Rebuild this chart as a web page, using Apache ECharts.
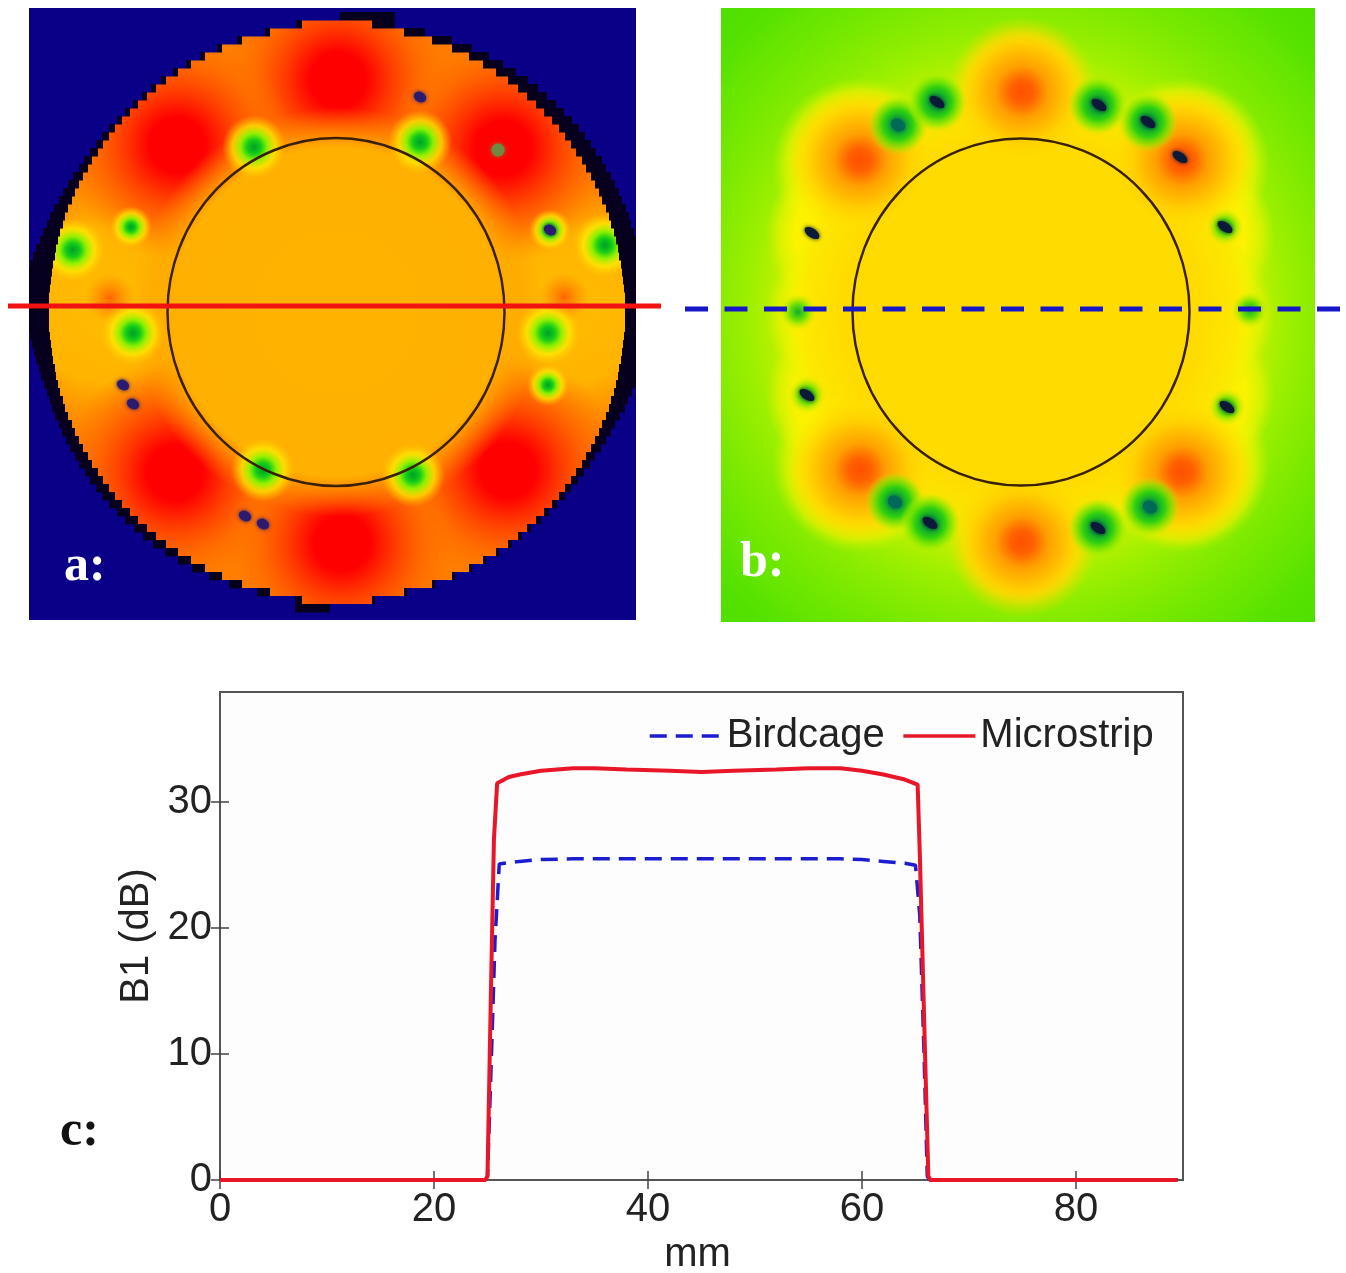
<!DOCTYPE html>
<html><head><meta charset="utf-8">
<style>html,body{margin:0;padding:0;background:#fff}#c{width:1346px;height:1273px}</style>
<script src="https://cdn.jsdelivr.net/npm/echarts@6/dist/echarts.min.js"></script>
</head><body><div id="c"></div>
<script>
// ---------- Panel c: B1 profile ----------
const xTicks = [0,20,40,60,80];
const yTicks = [0,10,20,30];
const birdcage = [[0,0],[10,0],[20,0],[24.8,0],[25,0.3],[25.3,8],[25.7,19],[26.1,25.1],[28,25.3],[30,25.45],[33,25.5],[38,25.5],[42,25.5],[46,25.5],[50,25.5],[54,25.5],[58,25.5],[60,25.45],[62,25.3],[64,25.15],[65,25],[65.4,21],[65.8,10],[66.1,0.3],[66.3,0],[75,0],[89.5,0]];
const microstrip = [[0,0],[10,0],[20,0],[24.8,0],[25,0.3],[25.3,14],[25.6,27],[25.9,31.5],[27,32],[28,32.2],[30,32.5],[33,32.7],[35,32.7],[38,32.6],[42,32.5],[45,32.4],[48,32.5],[52,32.6],[55,32.7],[58,32.7],[60,32.5],[62,32.2],[64,31.8],[65.2,31.4],[65.4,26],[65.8,13],[66.2,0.3],[66.4,0],[75,0],[89.5,0]];

// ---------- Panel a: field map (values on image-aligned axes) ----------
const rowYA = [24,32,40,48,56,64,72,80,88,96,104,112,120,128,136,144,152,160,168,176,184,192,200,208,216,224,232,240,248,256,264,272,280,288,296,304,312,320,328,336,344,352,360,368,376,384,392,400,408,416,424,432,440,448,456,464,472,480,488,496,504,512,520,528,536,544,552,560,568,576,584,592,600];
const edgeLeftA = [302,270,242,222,205,191,178,166,156,147,138,130,122,115,109,103,98,92,88,83,79,75,72,68,65,63,60,58,56,55,53,52,51,50,49,49,49,49,49,50,51,52,53,55,56,58,60,63,65,68,72,75,79,83,88,92,98,103,109,115,122,130,138,147,156,166,178,191,205,222,242,270,302];
const edgeRightA = [372,404,432,452,469,483,496,508,518,527,536,544,552,559,565,571,576,582,586,591,595,599,602,606,609,611,614,616,618,619,621,622,623,624,625,625,625,625,625,624,623,622,621,619,618,616,614,611,609,606,602,599,595,591,586,582,576,571,565,559,552,544,536,527,518,508,496,483,469,452,432,404,372];
const rimYA = [16,24,32,40,48,56,64,72,80,88,96,104,112,120,128,136,144,152,160,168,176,184,192,200,208,216,224,232,240,248,256,264,272,280,288,296,304,312,320,328,336,344,352,360,368,376,384,392,400,408,416,424,432,440,448,456,464,472,480,488,496,504,512,520,528,536,544,552,560,568,576,584,592,600,608];
const rimLeftA = [340,296,265,237,217,200,186,173,161,151,142,133,125,117,109,102,96,90,84,79,73,68,63,59,54,50,47,43,40,36,33,30,29,29,29,29,29,29,29,29,30,32,34,36,39,41,44,47,50,52,55,59,62,66,70,75,79,85,90,96,102,109,117,125,134,143,153,165,178,192,209,229,257,295,295];
const rimRightA = [395,395,425,452,472,489,503,516,528,538,547,556,564,572,579,585,591,596,602,606,611,615,619,622,626,629,631,634,636,636,636,636,636,636,636,636,636,636,636,636,636,636,636,636,636,636,636,632,628,625,620,615,611,606,601,595,590,584,578,571,565,557,549,541,531,522,512,499,486,472,455,435,407,375,330];
const bandYA = [8,616];
const coreA = [[337,312]];
const sideWarmA = [[105,305],[570,305]];
const hotA = [[338,80],[177,145],[503,148],[175,473],[508,470],[342,543]];
const minorA = [[110,298],[564,297]];
const jetLargeA = [[254,147],[73,250],[133,333],[263,470],[420,142],[605,245],[548,333],[413,475]];
const jetSmallA = [[131,227],[550,230],[548,385]];
const darkA = [[420,97],[123,385],[133,404],[245,516],[263,524],[550,230]];
const greyA = [[498,150]];
const refCircleA = [[336,312]];
const profileLineA = [[8,306],[661,306]];

// ---------- Panel b: field map ----------
const glowB = [[1018,315]];
const axisLobesB = [[1022,95],[1022,538]];
const diagLobesB = [[860,165],[1182,165],[860,465],[1182,465]];
const sideLobesB = [[850,235],[850,395],[1190,235],[1190,395],[850,315],[1190,315]];
const coreB = [[1021,312]];
const hotB = [[1022,92],[860,160],[1182,160],[860,470],[1182,472],[1022,542]];
const jetLargeB = [[898,125],[937,102],[1098,105],[1148,122],[895,502],[930,523],[1098,528],[1150,507]];
const jetSmallB = [[1225,227],[798,312],[1250,310],[807,395],[1227,407]];
const darkB = [[937,102],[1099,105],[1148,122],[1180,157],[812,233],[1225,227],[807,395],[1227,407],[930,523],[1098,528]];
const tealB = [[898,125],[1150,507],[895,502]];
const refCircleB = [[1021,312]];
const profileLineB = [[685,309],[1340,309]];

const grad = stops => new echarts.graphic.RadialGradient(0.5,0.5,0.5,stops.map(s=>({offset:s[0],color:s[1]})));
const blob = (ax,data,size,stops,z) => {const fill=grad(stops);return {type:'custom',xAxisIndex:ax,yAxisIndex:ax,data,silent:true,clip:true,z,
  renderItem:(p,api)=>{const c=api.coord([api.value(0),api.value(1)]);return {type:'circle',shape:{cx:c[0],cy:c[1],r:size/2},style:{fill}};}};};
const rows = (ax,triples,fill,z) => ({type:'custom',xAxisIndex:ax,yAxisIndex:ax,z,silent:true,clip:true,data:triples,
  renderItem:(p,api)=>{const a=api.coord([api.value(1),api.value(0)]),b=api.coord([api.value(2),api.value(0)]);
    return {type:'rect',shape:{x:a[0],y:a[1]-4,width:b[0]-a[0],height:8.5},style:{fill}};}});
const dot = (ax,data,size,rot,color,z)=>({type:'scatter',xAxisIndex:ax,yAxisIndex:ax,data,symbolSize:size,symbolRotate:rot,silent:true,z,itemStyle:{color,opacity:1,shadowBlur:4,shadowColor:color}});
const ring = (ax,data,size)=>({type:'scatter',xAxisIndex:ax,yAxisIndex:ax,data,symbolSize:size,silent:true,z:20,itemStyle:{color:'rgba(0,0,0,0)',borderColor:'#3a2008',borderWidth:2.5,opacity:1}});
const NAVY='#0a0088', RIM='#06001e';
const jetA=[[0,'#00a028'],[0.22,'#14cc18'],[0.42,'#90f000'],[0.68,'rgba(255,240,0,0.7)'],[1,'rgba(255,205,0,0)']];
const lobeStops=[[0,'#fff000'],[0.65,'#fbf200'],[0.85,'rgba(240,245,0,0.55)'],[1,'rgba(220,240,0,0)']];
const diskRows = rowYA.map((y,i)=>[y,edgeLeftA[i],edgeRightA[i]]);
const outerRows = rimYA.map((y,i)=>[y,29,rimLeftA[i]]).concat(rimYA.map((y,i)=>[y,rimRightA[i],636]),bandYA.map(y=>[y,29,636]));
const rimRows = rowYA.map((y,i)=>[y,rimLeftA[i+1],edgeLeftA[i]]).concat(rowYA.map((y,i)=>[y,edgeRightA[i],rimRightA[i+1]]),
  [[rimYA[0],rimLeftA[0],rimRightA[0]],[rimYA[rimYA.length-1],rimLeftA[rimLeftA.length-1],rimRightA[rimRightA.length-1]]]);

const panelSeries=[
  rows(0,diskRows,'#ff7e00',3),
  blob(0,sideWarmA,280,[[0,'#ffbc00'],[0.55,'#ffb400'],[1,'rgba(255,160,0,0)']],4),
  blob(0,hotA,230,[[0,'#ff0000'],[0.24,'#ff0000'],[0.44,'#ff3600'],[0.72,'rgba(255,100,0,0.7)'],[1,'rgba(255,120,0,0)']],5),
  blob(0,coreA,410,[[0,'#ffb300'],[0.8,'#ffb000'],[1,'rgba(255,150,0,0)']],6),
  blob(0,minorA,50,[[0,'rgba(255,80,0,0.8)'],[1,'rgba(255,120,0,0)']],6),
  blob(0,jetLargeA,64,jetA,7),
  blob(0,jetSmallA,42,jetA,7),
  dot(0,darkA,[13,10],-30,'#2a1a70',8),
  dot(0,greyA,13,0,'#6f8a40',8),
  rows(0,outerRows,NAVY,9),
  rows(0,rimRows,RIM,9),
  ring(0,refCircleA,[337,348]),

  blob(1,glowB,860,[[0,'#ffe800'],[0.44,'#f4f400'],[0.52,'#d0f000'],[0.62,'#a0f000'],[0.85,'rgba(110,232,0,0.7)'],[1,'rgba(80,224,0,0)']],2),
  blob(1,axisLobesB,136,lobeStops,3),
  blob(1,diagLobesB,176,lobeStops,3),
  blob(1,sideLobesB,170,lobeStops,3),
  blob(1,coreB,470,[[0,'#ffdb00'],[0.76,'#ffdb00'],[0.92,'rgba(255,225,0,0.6)'],[1,'rgba(255,240,0,0)']],4),
  blob(1,hotB,150,[[0,'#ff5000'],[0.15,'#ff6000'],[0.35,'#ffa000'],[0.65,'#ffcf00'],[1,'rgba(255,225,0,0)']],5),
  blob(1,jetLargeB,60,[[0,'#007a40'],[0.25,'#10a830'],[0.5,'#30d010'],[0.75,'rgba(120,230,0,0.7)'],[1,'rgba(180,240,0,0)']],6),
  blob(1,jetSmallB,38,[[0,'#10b030'],[0.45,'#70e000'],[1,'rgba(220,240,0,0)']],6),
  dot(1,tealB,[15,12],-35,'#006a58',7),
  dot(1,darkB,[17,9],-35,'#0a1a38',8),
  ring(1,refCircleB,[337,347]),
  {type:'line',xAxisIndex:4,yAxisIndex:4,data:profileLineA,symbol:'none',silent:true,z:30,lineStyle:{color:'#f21212',width:5}},
  {type:'line',xAxisIndex:5,yAxisIndex:5,data:profileLineB,symbol:'none',silent:true,z:30,lineStyle:{color:'#1616c8',width:5,type:[23,16.5]}}
];

const labelFont={fontFamily:'Liberation Sans',fontSize:40,color:'#222'};
const tagFont=c=>({fontFamily:'Liberation Serif',fontWeight:'bold',fontSize:50,color:c});
const tick={inside:true,length:9,lineStyle:{color:'#444',width:1.5}};
const option={
  animation:false,
  backgroundColor:'#fff',
  title:[
    {text:'a:',left:59,top:537,textStyle:tagFont('#fff'),z:40},
    {text:'b:',left:735,top:533,textStyle:tagFont('#fff'),z:40},
    {text:'c:',left:55,top:1102,textStyle:tagFont('#111'),z:40}
  ],
  grid:[
    {left:29,top:8,width:607,height:612,show:true,backgroundColor:NAVY,borderWidth:0,outerBoundsMode:'none'},
    {left:721,top:8,width:594,height:614,show:true,backgroundColor:'#50e000',borderWidth:0,outerBoundsMode:'none'},
    {left:220,top:692,width:963,height:488,show:true,backgroundColor:'#fdfdfd',borderColor:'#555',borderWidth:2,outerBoundsMode:'none'},
    {left:8,top:8,width:653,height:612,show:false,outerBoundsMode:'none'},
    {left:685,top:8,width:655,height:614,show:false,outerBoundsMode:'none'}
  ],
  xAxis:[
    {type:'value',gridIndex:0,min:29,max:636,show:false},
    {type:'value',gridIndex:1,min:721,max:1315,show:false},
    {type:'value',gridIndex:2,min:0,max:90,name:'mm',nameLocation:'middle',nameGap:55,nameTextStyle:Object.assign({padding:[0,8,0,0]},labelFont),
      axisLine:{show:false},splitLine:{show:false},
      axisTick:Object.assign({customValues:xTicks},tick),
      axisLabel:Object.assign({margin:10,customValues:xTicks},labelFont)},
    {type:'value',gridIndex:2,position:'top',min:0,max:90,axisLine:{show:false},splitLine:{show:false},axisLabel:{show:false},
      axisTick:Object.assign({customValues:xTicks},tick)},
    {type:'value',gridIndex:3,min:8,max:661,show:false},
    {type:'value',gridIndex:4,min:685,max:1340,show:false}
  ],
  yAxis:[
    {type:'value',gridIndex:0,min:8,max:620,inverse:true,show:false},
    {type:'value',gridIndex:1,min:8,max:622,inverse:true,show:false},
    {type:'value',gridIndex:2,min:0,max:38.75,name:'B1 (dB)',nameLocation:'middle',nameGap:63,nameTextStyle:labelFont,
      axisLine:{show:false},splitLine:{show:false},
      axisTick:Object.assign({customValues:yTicks},tick),
      axisLabel:Object.assign({margin:8,customValues:yTicks,padding:[4,0,0,0]},labelFont)},
    {type:'value',gridIndex:2,position:'right',min:0,max:38.75,axisLine:{show:false},splitLine:{show:false},axisLabel:{show:false},
      axisTick:Object.assign({customValues:yTicks},tick)},
    {type:'value',gridIndex:3,min:8,max:620,inverse:true,show:false},
    {type:'value',gridIndex:4,min:8,max:622,inverse:true,show:false}
  ],
  legend:{data:['Birdcage','Microstrip'],left:643,top:711,itemWidth:72,itemHeight:14,itemGap:17,
    itemStyle:{opacity:0},lineStyle:{width:3.5},
    textStyle:labelFont,selectedMode:false},
  series:panelSeries.concat([
    {name:'Birdcage',type:'line',xAxisIndex:2,yAxisIndex:2,data:birdcage,symbol:'none',showSymbol:false,silent:true,z:10,
      lineStyle:{color:'#1c1cd0',width:3.5,type:[17,9]},itemStyle:{color:'#1c1cd0'}},
    {name:'Microstrip',type:'line',xAxisIndex:2,yAxisIndex:2,data:microstrip,symbol:'none',showSymbol:false,silent:true,z:11,
      lineStyle:{color:'#e81628',width:4},itemStyle:{color:'#e81628'}}
  ])
};
echarts.init(document.getElementById('c'),null,{renderer:'canvas'}).setOption(option);
</script></body></html>
